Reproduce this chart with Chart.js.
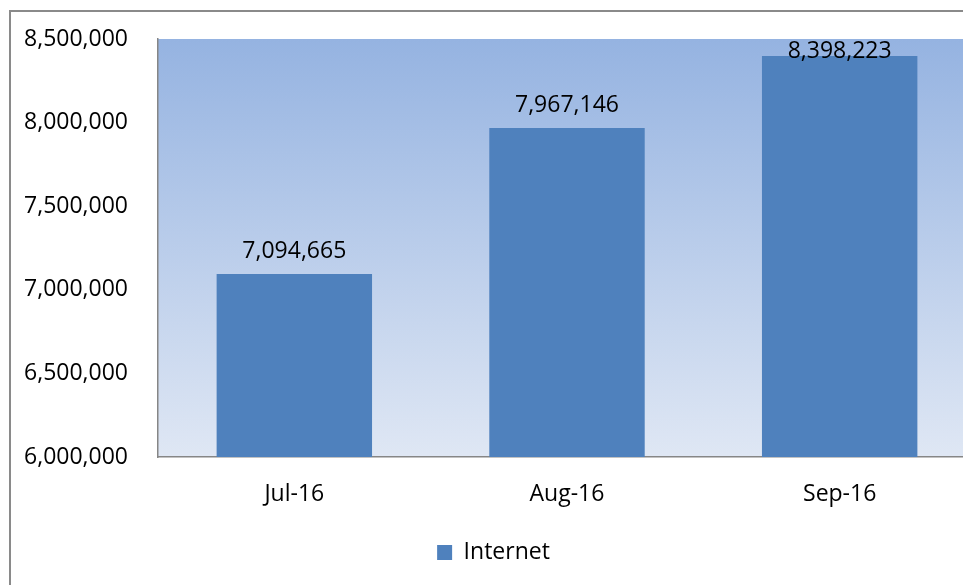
<!DOCTYPE html>
<html>
<head>
<meta charset="utf-8">
<script src="https://cdn.jsdelivr.net/npm/chart.js@4/dist/chart.umd.min.js"></script>
<style>
  html, body { margin: 0; padding: 0; background: #fff; overflow: hidden; width: 963px; height: 585px; }
  #frame { position: absolute; left: 9px; top: 10px; width: 1100px; height: 700px; border: 2px solid #8a8a8a; }
  #wrap { position: absolute; left: 0; top: 0; width: 972px; height: 573px; }
</style>
</head>
<body>
<div id="frame">
  <div id="wrap"><canvas id="chart"></canvas></div>
</div>
<script>
'use strict';

// ── Data ───────────────────────────────────────────────────────────────────
const MONTHS   = ['Jul-16', 'Aug-16', 'Sep-16'];
const INTERNET = [7094665, 7967146, 8398223];
const Y_MIN = 6000000, Y_MAX = 8500000, Y_STEP = 500000;

const FONT = '"Open Sans", sans-serif';
const BAR_COLOR = '#4f81bd';

function fmt(v) { return v.toLocaleString('en-US'); }

// gradient fill behind the plot area
const plotBackground = {
  id: 'plotBackground',
  beforeDraw(chart) {
    const { ctx, chartArea: a } = chart;
    const g = ctx.createLinearGradient(0, a.top, 0, a.bottom);
    g.addColorStop(0, '#95b3e1');
    g.addColorStop(1, '#dfe7f4');
    ctx.save();
    ctx.fillStyle = g;
    ctx.fillRect(a.left, a.top, a.right - a.left, a.bottom - a.top);
    ctx.restore();
  }
};

// value labels above each bar (kept inside the plot area)
const valueLabels = {
  id: 'valueLabels',
  afterDatasetsDraw(chart) {
    const { ctx, chartArea: a } = chart;
    const meta = chart.getDatasetMeta(0);
    ctx.save();
    ctx.font = '23px ' + FONT;
    ctx.fillStyle = '#000';
    ctx.textAlign = 'center';
    ctx.textBaseline = 'alphabetic';
    meta.data.forEach((bar, i) => {
      const y = Math.max(bar.y - 16, a.top + 19);
      ctx.fillText(fmt(INTERNET[i]), bar.x, y);
    });
    ctx.restore();
  }
};

new Chart(document.getElementById('chart'), {
  type: 'bar',
  data: {
    labels: MONTHS,
    datasets: [{
      label: 'Internet',
      data: INTERNET,
      backgroundColor: BAR_COLOR,
      borderWidth: 0,
      categoryPercentage: 1,
      barPercentage: 0.57
    }]
  },
  options: {
    responsive: true,
    maintainAspectRatio: false,
    animation: false,
    layout: { padding: { top: 27, right: 7, left: 0, bottom: 11 } },
    plugins: {
      tooltip: { enabled: false },
      legend: {
        position: 'bottom',
        labels: {
          color: '#000',
          font: { family: FONT, size: 23 },
          boxWidth: 15,
          boxHeight: 15,
          padding: 10
        }
      }
    },
    scales: {
      x: {
        grid: { display: false, drawTicks: false },
        border: { color: '#868686', width: 1.5 },
        ticks: { color: '#000', font: { family: FONT, size: 23 }, padding: 24 },
        afterFit(s) { s.height = 74; }
      },
      y: {
        min: Y_MIN,
        max: Y_MAX,
        grid: { display: false, drawTicks: false },
        border: { color: '#868686', width: 1.5 },
        ticks: {
          stepSize: Y_STEP,
          color: '#000',
          font: { family: FONT, size: 23 },
          padding: 30,
          callback: v => fmt(v)
        },
        afterFit(s) { s.width = 147; s.paddingTop = 0; s.paddingBottom = 0; }
      }
    }
  },
  plugins: [plotBackground, valueLabels]
});
</script>
</body>
</html>
